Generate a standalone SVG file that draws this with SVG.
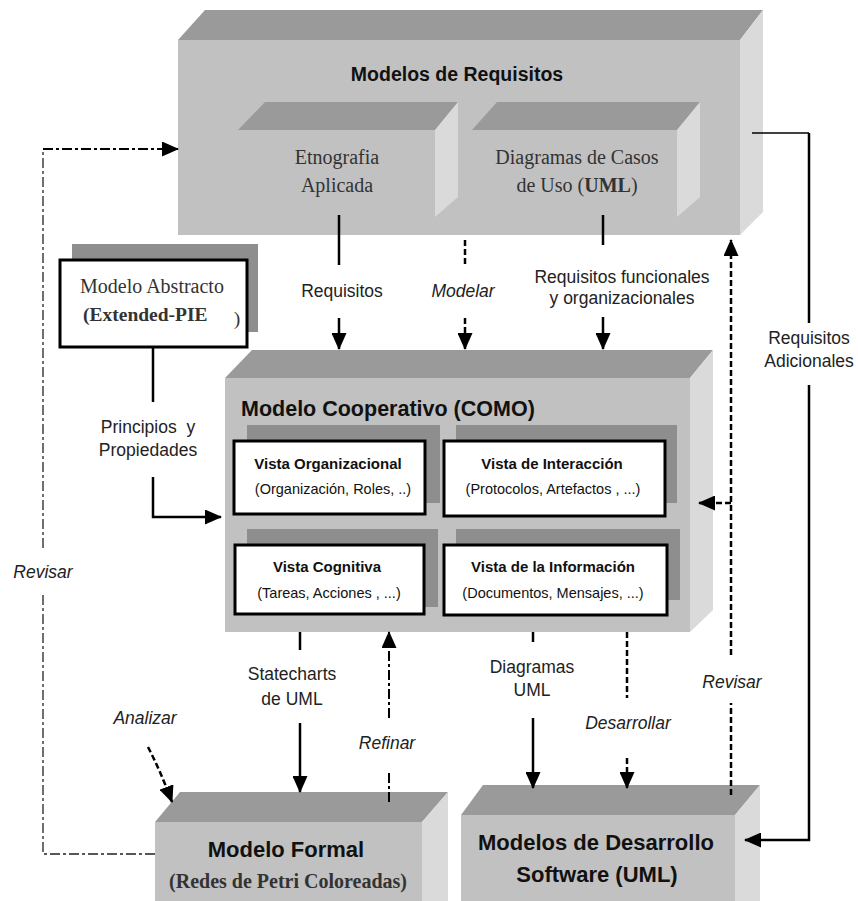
<svg xmlns="http://www.w3.org/2000/svg" width="858" height="901" viewBox="0 0 858 901">
  <style>
    .top { fill: #9a9a9a; }
    .front { fill: #c1c1c1; }
    .side { fill: #dadada; }
    .shadow { fill: #8e8e8e; }
    .card { fill: #ffffff; stroke: #000000; stroke-width: 3; }
    .title { font-family: "Liberation Sans", Arial, sans-serif; font-weight: bold; fill: #111; text-anchor: middle; }
    .serif { font-family: "Liberation Serif", "Times New Roman", serif; fill: #333; text-anchor: middle; }
    .view { font-family: "Liberation Sans", Arial, sans-serif; fill: #111; text-anchor: middle; }
    .lbl { font-family: "Liberation Sans", Arial, sans-serif; font-size: 17.5px; fill: #222; text-anchor: middle; }
    .it { font-style: italic; }
    .start { text-anchor: start; }
    .solid { fill: none; stroke: #000; stroke-width: 2.5; }
    .thin { fill: none; stroke: #000; stroke-width: 1.5; }
    .dash { fill: none; stroke: #000; stroke-width: 2.5; stroke-dasharray: 6 3; }
    .dashdot { fill: none; stroke: #000; stroke-width: 2; stroke-dasharray: 10 3 3 3; }
    .dashdot-thin { fill: none; stroke: #222; stroke-width: 1.3; stroke-dasharray: 10 3 3 3; }
  </style>
  <defs>
    <marker id="ah" viewBox="0 0 17 15" refX="16" refY="7.5" markerWidth="17" markerHeight="15" markerUnits="userSpaceOnUse" orient="auto">
      <path d="M0,0 L17,7.5 L0,15 Z" fill="#000"/>
    </marker>
  </defs>

  <rect width="858" height="901" fill="#ffffff"/>

  <!-- Requirements models block -->
  <g id="modelos-requisitos">
    <polygon class="top" points="178,40 205,10 763,10 740,40"/>
    <rect class="front" x="178" y="40" width="562" height="195"/>
    <polygon class="side" points="740,40 763,10 763,212 740,235"/>
    <text class="title" x="457" y="81" font-size="19.5">Modelos de Requisitos</text>
  </g>
  <g id="etnografia">
    <polygon class="top" points="238,130 265,102 458,102 435,130"/>
    <polygon class="side" points="435,130 458,102 458,197 435,217"/>
    <text class="serif" x="337" y="164" font-size="20">Etnografia</text>
    <text class="serif" x="337" y="192" font-size="20">Aplicada</text>
  </g>
  <g id="casos-de-uso">
    <polygon class="top" points="472,130 497,102 700,102 677,130"/>
    <polygon class="side" points="677,130 700,102 700,197 677,217"/>
    <text class="serif" x="577" y="164" font-size="20">Diagramas de Casos</text>
    <text class="serif" x="577" y="192" font-size="20">de Uso (<tspan font-weight="bold">UML</tspan>)</text>
  </g>

  <!-- Abstract model -->
  <g id="modelo-abstracto">
    <rect class="shadow" x="72" y="244" width="186" height="88"/>
    <rect class="card" x="60" y="260" width="187" height="87"/>
    <text class="serif" x="152" y="293" font-size="20">Modelo Abstracto</text>
    <text class="serif start" x="83" y="321" font-size="19.5" font-weight="bold">(Extended-PIE</text>
    <text class="serif" x="237" y="325" font-size="19.5">)</text>
  </g>

  <!-- Cooperative model -->
  <g id="modelo-cooperativo">
    <polygon class="top" points="225,378 252,350 713,350 690,378"/>
    <rect class="front" x="225" y="378" width="465" height="254"/>
    <polygon class="side" points="690,378 713,350 713,610 690,632"/>
    <text class="title start" x="241" y="416" font-size="21.5">Modelo Cooperativo (COMO)</text>
  </g>
  <g id="vista-organizacional">
    <rect class="shadow" x="247" y="425" width="193" height="78"/>
    <rect class="card" x="234" y="441" width="191" height="73"/>
    <text class="view" x="328" y="469" font-size="15" font-weight="bold">Vista Organizacional</text>
    <text class="view" x="333" y="494" font-size="14.5">(Organización, Roles, ..)</text>
  </g>
  <g id="vista-interaccion">
    <rect class="shadow" x="456" y="425" width="221" height="78"/>
    <rect class="card" x="444" y="441" width="221" height="75"/>
    <text class="view" x="552" y="469" font-size="15" font-weight="bold">Vista de Interacción</text>
    <text class="view" x="553" y="494" font-size="14.5">(Protocolos, Artefactos , ...)</text>
  </g>
  <g id="vista-cognitiva">
    <rect class="shadow" x="247" y="529" width="191" height="78"/>
    <rect class="card" x="235" y="545" width="189" height="69"/>
    <text class="view" x="327" y="572" font-size="15" font-weight="bold">Vista Cognitiva</text>
    <text class="view" x="329" y="598" font-size="14.5">(Tareas, Acciones , ...)</text>
  </g>
  <g id="vista-informacion">
    <rect class="shadow" x="456" y="529" width="224" height="71"/>
    <rect class="card" x="444" y="545" width="223" height="70"/>
    <text class="view" x="553" y="572" font-size="15" font-weight="bold">Vista de la Información</text>
    <text class="view" x="553" y="598" font-size="14.5">(Documentos, Mensajes, ...)</text>
  </g>

  <!-- Formal model -->
  <g id="modelo-formal">
    <polygon class="top" points="155,822 180,792 448,792 422,822"/>
    <rect class="front" x="155" y="822" width="267" height="79"/>
    <polygon class="side" points="422,822 448,792 448,901 422,901"/>
    <text class="title" x="286" y="857" font-size="22">Modelo Formal</text>
    <text class="serif" x="288" y="888" font-size="20" font-weight="bold" fill="#111">(Redes de Petri Coloreadas)</text>
  </g>

  <!-- Software development models -->
  <g id="modelos-desarrollo">
    <polygon class="top" points="461,815 483,785 760,785 735,815"/>
    <rect class="front" x="461" y="815" width="274" height="86"/>
    <polygon class="side" points="735,815 760,785 760,901 735,901"/>
    <text class="title" x="596" y="850" font-size="22">Modelos de Desarrollo</text>
    <text class="title" x="597" y="882" font-size="22">Software (UML)</text>
  </g>

  <!-- Connectors -->
  <g id="connectors">
    <!-- Revisar: formal model back to requirements -->
    <path class="dashdot-thin" d="M155,854 H43 V593"/>
    <path class="dashdot-thin" d="M43,548 V149"/>
    <path class="dashdot" d="M43,149 H178" marker-end="url(#ah)"/>

    <!-- Requisitos -->
    <path class="solid" d="M339,215 V265"/>
    <path class="solid" d="M339,318 V349" marker-end="url(#ah)"/>

    <!-- Modelar -->
    <path class="dash" d="M465,240 V267"/>
    <path class="dash" d="M465,318 V349" marker-end="url(#ah)"/>

    <!-- Requisitos funcionales y organizacionales -->
    <path class="solid" d="M603,215 V245"/>
    <path class="solid" d="M603,317 V349" marker-end="url(#ah)"/>

    <!-- Principios y Propiedades -->
    <path class="solid" d="M153,347 V402"/>
    <path class="solid" d="M153,477 V517 H221" marker-end="url(#ah)"/>

    <!-- Requisitos Adicionales -->
    <path class="thin" d="M752,133 H809"/>
    <path class="solid" d="M809,133 V323"/>
    <path class="solid" d="M809,385 V840 H745" marker-end="url(#ah)"/>

    <!-- Revisar: software models back to requirements -->
    <path class="dash" d="M731,795 V703"/>
    <path class="dash" d="M731,655 V240" marker-end="url(#ah)"/>
    <path class="dash" d="M731,503 H699" marker-end="url(#ah)"/>

    <!-- Statecharts de UML -->
    <path class="solid" d="M300,632 V650"/>
    <path class="solid" d="M300,723 V792" marker-end="url(#ah)"/>

    <!-- Refinar -->
    <path class="dashdot" d="M389,802 V772"/>
    <path class="dashdot" d="M389,718 V632" marker-end="url(#ah)"/>

    <!-- Analizar -->
    <path class="dash" d="M148,747 Q160,770 172,802" marker-end="url(#ah)"/>

    <!-- Diagramas UML -->
    <path class="solid" d="M533,632 V642"/>
    <path class="solid" d="M533,718 V788" marker-end="url(#ah)"/>

    <!-- Desarrollar -->
    <path class="dash" d="M627,632 V698"/>
    <path class="dash" d="M627,758 V788" marker-end="url(#ah)"/>
  </g>

  <!-- Connector labels -->
  <g id="labels">
    <text class="lbl" x="342" y="297">Requisitos</text>
    <text class="lbl it" x="463" y="297">Modelar</text>
    <text class="lbl" x="622" y="283">Requisitos funcionales</text>
    <text class="lbl" x="622" y="304">y organizacionales</text>
    <text class="lbl" x="148" y="433" xml:space="preserve">Principios  y</text>
    <text class="lbl" x="148" y="456">Propiedades</text>
    <text class="lbl" x="809" y="344">Requisitos</text>
    <text class="lbl" x="809" y="367">Adicionales</text>
    <text class="lbl it" x="43" y="578">Revisar</text>
    <text class="lbl" x="292" y="680">Statecharts</text>
    <text class="lbl" x="292" y="705">de UML</text>
    <text class="lbl it" x="145" y="724">Analizar</text>
    <text class="lbl it" x="387" y="749">Refinar</text>
    <text class="lbl" x="532" y="673">Diagramas</text>
    <text class="lbl" x="532" y="696">UML</text>
    <text class="lbl it" x="628" y="729">Desarrollar</text>
    <text class="lbl it" x="732" y="688">Revisar</text>
  </g>
</svg>
